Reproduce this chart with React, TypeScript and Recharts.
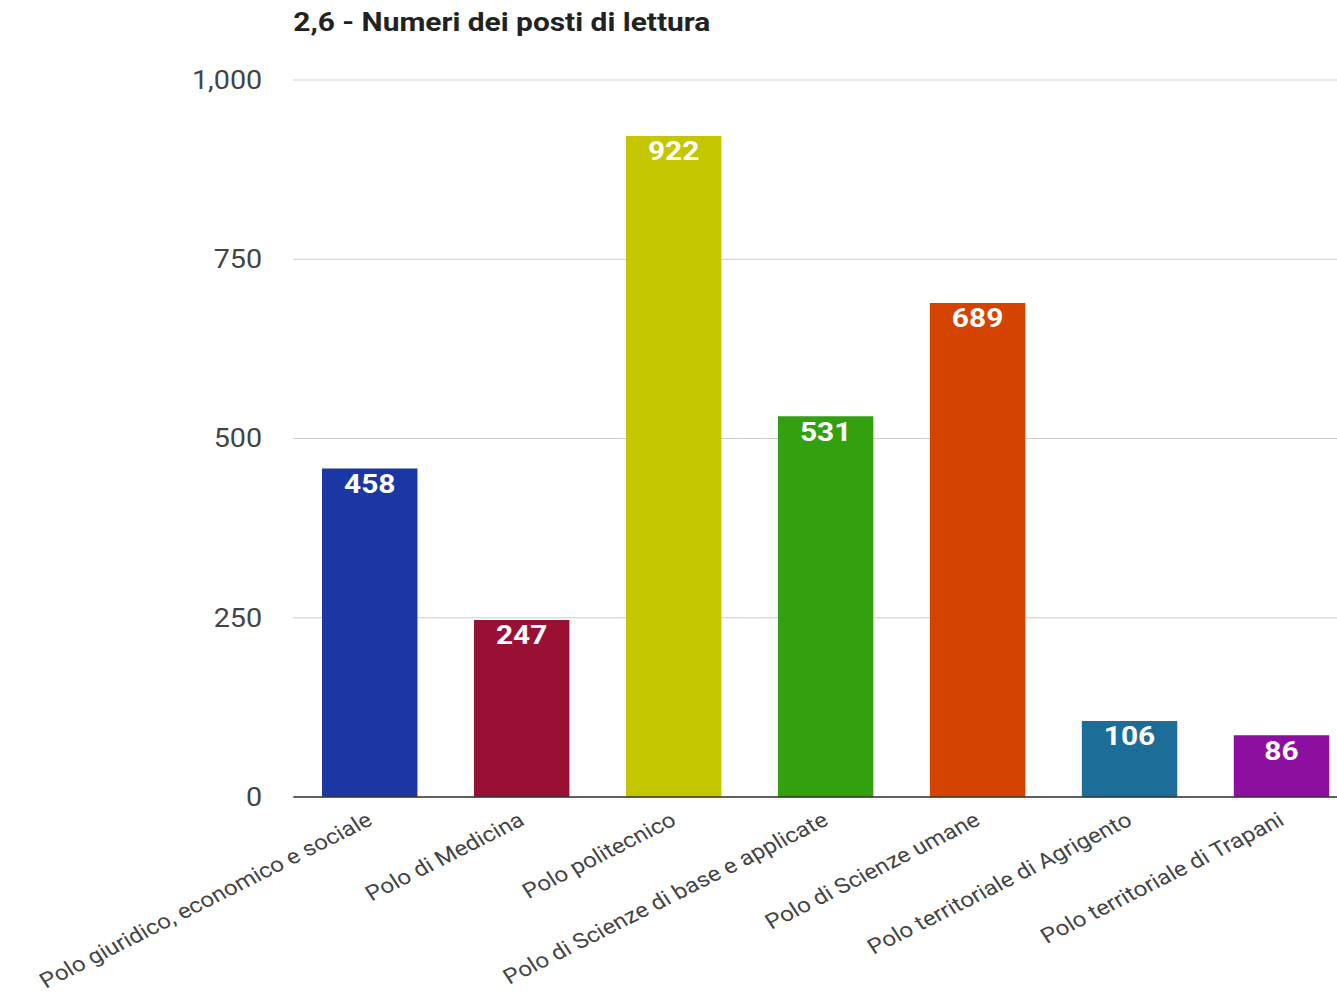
import { BarChart, Bar, XAxis, YAxis, CartesianGrid, Cell, LabelList } from 'recharts'

const categories = [
  'Polo giuridico, economico e sociale',
  'Polo di Medicina',
  'Polo politecnico',
  'Polo di Scienze di base e applicate',
  'Polo di Scienze umane',
  'Polo territoriale di Agrigento',
  'Polo territoriale di Trapani',
]
const posti = [458, 247, 922, 531, 689, 106, 86]
const barColors = ['#1a37a4', '#9a0f34', '#c4c600', '#33a00f', '#d54300', '#1c6e98', '#8d0fa0']
const yTicks = [0, 250, 500, 750, 1000]

const data = categories.map((name, i) => ({ name, value: posti[i] }))

// the reference is stretched horizontally, so draw narrow and scale
const STRETCH = 1.15

function XTick(props: any) {
  const { x, y, payload } = props
  return (
    <g transform={`translate(${x + 4},${y + 19})`}>
      <text
        x={0}
        y={0}
        textAnchor="end"
        transform="rotate(-30)"
        fill="#444"
        fontSize={21}
        fontFamily="Roboto"
      >
        {payload.value}
      </text>
    </g>
  )
}

export default function App() {
  return (
    <div
      style={{
        position: 'absolute',
        left: 0,
        top: 0,
        width: 1337,
        height: 1001,
        overflow: 'hidden',
        background: '#fff',
      }}
    >
      <div style={{ transform: `scaleX(${STRETCH})`, transformOrigin: '0 0', width: 1190, position: 'relative' }}>
        <div
          style={{
            position: 'absolute',
            left: 255,
            top: 7,
            fontFamily: 'Roboto',
            fontWeight: 'bold',
            fontSize: 26,
            color: '#222',
            whiteSpace: 'nowrap',
          }}
        >
          2,6 - Numeri dei posti di lettura
        </div>
        <BarChart
          width={1190}
          height={1001}
          data={data}
          margin={{ top: 80, right: 10, bottom: 0, left: 0 }}
        >
          <CartesianGrid vertical={false} stroke="#cccccc" />
          <XAxis
            dataKey="name"
            height={204}
            interval={0}
            tickLine={false}
            axisLine={{ stroke: '#333', strokeWidth: 1.5 }}
            tick={<XTick />}
          />
          <YAxis
            width={255}
            domain={[0, 1000]}
            ticks={yTicks}
            axisLine={false}
            tickLine={false}
            tickSize={0}
            tickMargin={27}
            tickFormatter={(v: number) => v.toLocaleString('en-US')}
            tick={{ fill: '#444', fontSize: 25, fontFamily: 'Roboto' }}
          />
          <Bar dataKey="value" barSize={83} isAnimationActive={false}>
            {data.map((d, i) => (
              <Cell key={d.name} fill={barColors[i]} />
            ))}
            <LabelList
              dataKey="value"
              position="insideTop"
              offset={6}
              fill="#fff"
              fontSize={26}
              fontWeight="bold"
              fontFamily="Roboto"
            />
          </Bar>
        </BarChart>
      </div>
    </div>
  )
}
